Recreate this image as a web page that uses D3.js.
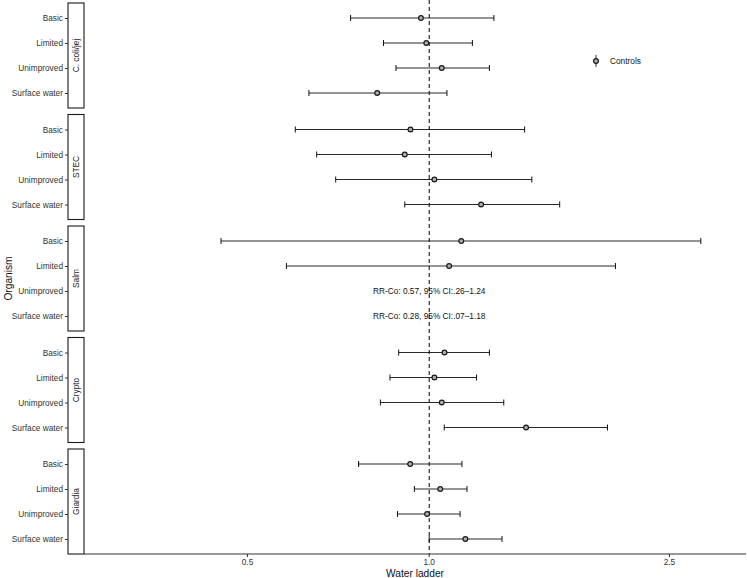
<!DOCTYPE html>
<html>
<head>
<meta charset="utf-8">
<script src="https://cdn.jsdelivr.net/npm/d3@7"></script>
<style>
  body { margin: 0; background: #fff; }
  svg { display: block; font-family: "Liberation Sans", Arial, sans-serif; }
</style>
</head>
<body>
<svg id="chart" width="747" height="578"></svg>
<script>
// ---- data ----
const organisms = ["C. coli/jej", "STEC", "Salm", "Crypto", "Giardia"];
const ladder = ["Basic", "Limited", "Unimproved", "Surface water"];
// rows in order organism x ladder
const estimate = [
  0.969, 0.989, 1.049, 0.820,
  0.931, 0.911, 1.020, 1.219,
  1.130, 1.079, null, null,
  1.060, 1.020, 1.049, 1.447,
  0.930, 1.043, 0.992, 1.148
];
const lower = [
  0.741, 0.840, 0.881, 0.632,
  0.600, 0.651, 0.700, 0.911,
  0.452, 0.580, null, null,
  0.890, 0.861, 0.830, 1.059,
  0.764, 0.945, 0.886, 1.000
];
const upper = [
  1.280, 1.179, 1.258, 1.070,
  1.439, 1.268, 1.479, 1.645,
  2.818, 2.035, null, null,
  1.258, 1.198, 1.329, 1.974,
  1.133, 1.155, 1.125, 1.320
];
const annotations = [
  { organism: "Salm", level: "Unimproved", text: "RR-Co: 0.57, 95% CI:.26\u20131.24" },
  { organism: "Salm", level: "Surface water", text: "RR-Co: 0.28, 95% CI:.07\u20131.18" }
];
const xTicks = [0.5, 1.0, 2.5];
const xTickLabels = ["0.5", "1.0", "2.5"];
const xDomain = [0.268, 3.348];
const legendLabel = "Controls";

// ---- layout ----
const svg = d3.select("#chart");
const panelLeft = 84, panelRight = 746;
const panelTop0 = 3, panelH = 105, panelGap = 6.5;
const axisY = 554;
const stripW = 16;
const fontTick = 8.3;
const ff = "Liberation Sans, Arial, sans-serif";

const x = d3.scaleLog().domain(xDomain).range([panelLeft, panelRight]);

const rows = [];
organisms.forEach((o, i) => ladder.forEach((l, j) => {
  const k = i * ladder.length + j;
  rows.push({ organism: o, level: l, est: estimate[k], lo: lower[k], hi: upper[k] });
}));

// dashed reference line
svg.append("line")
  .attr("x1", x(1)).attr("x2", x(1))
  .attr("y1", 0).attr("y2", axisY)
  .attr("stroke", "#000").attr("stroke-width", 1)
  .attr("stroke-dasharray", "4,3");

organisms.forEach((o, i) => {
  const top = panelTop0 + i * (panelH + panelGap);
  const y = d3.scalePoint().domain(ladder).range([top, top + panelH]).padding(0.6);
  const g = svg.append("g");

  // strip
  g.append("rect")
    .attr("x", panelLeft - stripW).attr("y", top)
    .attr("width", stripW).attr("height", panelH)
    .attr("fill", "#fff").attr("stroke", "#1a1a1a").attr("stroke-width", 1.1);
  g.append("text")
    .attr("transform", `translate(${panelLeft - stripW / 2 + 3},${top + panelH / 2}) rotate(-90)`)
    .attr("text-anchor", "middle")
    .attr("font-size", fontTick).attr("fill", "#1a1a1a")
    .text(o);

  // y axis ticks and labels
  const yAxis = d3.axisLeft(y).tickSize(3).tickPadding(2);
  const ga = g.append("g").attr("transform", `translate(${panelLeft - stripW},0)`).call(yAxis);
  ga.select(".domain").remove();
  ga.selectAll(".tick line").attr("stroke", "#333");
  ga.selectAll(".tick text").attr("font-size", fontTick).attr("fill", "#333")
    .attr("font-family", ff);

  // error bars
  const data = rows.filter(r => r.organism === o && r.est !== null);
  const eb = g.selectAll(".eb").data(data).enter().append("g");
  eb.append("line")
    .attr("x1", d => x(d.lo)).attr("x2", d => x(d.hi))
    .attr("y1", d => y(d.level)).attr("y2", d => y(d.level))
    .attr("stroke", "#111").attr("stroke-width", 0.9);
  eb.append("line")
    .attr("x1", d => x(d.lo)).attr("x2", d => x(d.lo))
    .attr("y1", d => y(d.level) - 3).attr("y2", d => y(d.level) + 3)
    .attr("stroke", "#111").attr("stroke-width", 1);
  eb.append("line")
    .attr("x1", d => x(d.hi)).attr("x2", d => x(d.hi))
    .attr("y1", d => y(d.level) - 3).attr("y2", d => y(d.level) + 3)
    .attr("stroke", "#111").attr("stroke-width", 1);
  eb.append("circle")
    .attr("cx", d => x(d.est)).attr("cy", d => y(d.level)).attr("r", 2.4)
    .attr("fill", "#b0b0b0").attr("stroke", "#1a1a1a").attr("stroke-width", 1.2);

  // annotations
  annotations.filter(a => a.organism === o).forEach(a => {
    g.append("text")
      .attr("x", x(1)).attr("y", y(a.level))
      .attr("dy", "0.35em")
      .attr("text-anchor", "middle")
      .attr("font-size", fontTick).attr("fill", "#111")
      .text(a.text);
  });
});

// x axis
svg.append("line").attr("x1", panelLeft).attr("x2", panelRight).attr("y1", axisY).attr("y2", axisY)
  .attr("stroke", "#333").attr("stroke-width", 1.1);
const xt = svg.append("g").selectAll("g").data(xTicks).enter().append("g")
  .attr("transform", d => `translate(${x(d)},${axisY})`);
xt.append("line").attr("y1", 0).attr("y2", 3).attr("stroke", "#333");
xt.append("text").attr("y", 5.5).attr("dy", "0.71em").attr("text-anchor", "middle")
  .attr("font-size", fontTick).attr("fill", "#333")
  .text((d, i) => xTickLabels[i]);

// axis titles
svg.append("text")
  .attr("x", (panelLeft + panelRight) / 2).attr("y", 577)
  .attr("text-anchor", "middle").attr("font-size", 10.2).attr("fill", "#111")
  .text("Water ladder");
svg.append("text")
  .attr("transform", `translate(12,${(panelTop0 + axisY) / 2}) rotate(-90)`)
  .attr("text-anchor", "middle").attr("font-size", 10.2).attr("fill", "#111")
  .text("Organism");

// legend
const lg = svg.append("g").attr("transform", "translate(596,61)");
lg.append("line").attr("x1", 0).attr("x2", 0).attr("y1", -6).attr("y2", 6)
  .attr("stroke", "#111").attr("stroke-width", 0.9);
lg.append("circle").attr("r", 2.4).attr("fill", "#b0b0b0")
  .attr("stroke", "#1a1a1a").attr("stroke-width", 1.2);
lg.append("text").attr("x", 14).attr("dy", "0.35em")
  .attr("font-size", fontTick).attr("fill", "#111").text(legendLabel);
</script>
</body>
</html>
